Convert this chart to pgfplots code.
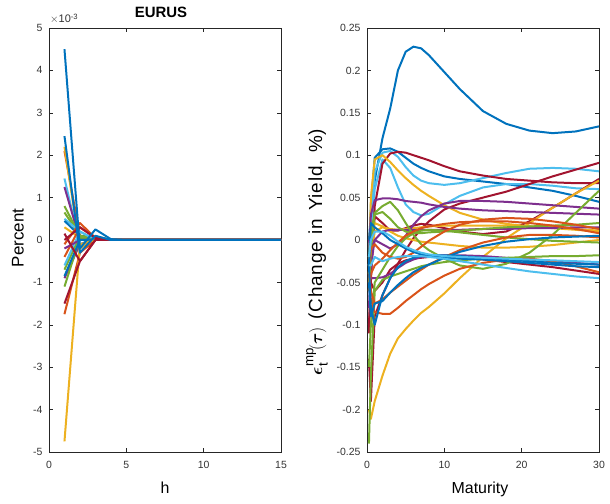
\documentclass[border=0pt]{standalone}
\usepackage{pgfplots}
\pgfplotsset{compat=1.18}
\usepackage{fontspec}
\setmainfont{Liberation Sans}
\newfontfamily\spacedfont{Liberation Sans}[LetterSpace=4, WordSpace=1.3]
\usepackage{amsmath}
\usepackage{bm}
\definecolor{c1}{rgb}{0,0.447,0.741}
\definecolor{c2}{rgb}{0.85,0.325,0.098}
\definecolor{c3}{rgb}{0.929,0.694,0.125}
\definecolor{c4}{rgb}{0.494,0.184,0.556}
\definecolor{c5}{rgb}{0.466,0.674,0.188}
\definecolor{c6}{rgb}{0.301,0.745,0.933}
\definecolor{c7}{rgb}{0.635,0.078,0.184}
\pgfplotsset{
  mstyle/.style={scale only axis, width=232bp, height=424bp,
    axis line style={black!85, line width=0.5bp},
    tick align=inside, tick style={black!85, line width=0.5bp}, major tick length=4bp,
    ticklabel style={font=\fontsize{10.5}{12}\selectfont, color=black!80},
    xticklabel style={yshift=-6bp},
    yticklabel style={xshift=-3bp},
    /pgf/number format/assume math mode=true,
    every axis plot/.append style={line width=2bp, mark=none, line join=round},
    clip=true}
}
\begin{document}
\begin{tikzpicture}
\useasboundingbox (0,0) rectangle (610bp,504bp);
% ---------------- left panel ----------------
\begin{axis}[mstyle, at={(49bp,52bp)}, anchor=south west,
  xmin=0, xmax=15, ymin=-5, ymax=5,
  xtick={0,5,10,15}, ytick={-5,-4,-3,-2,-1,0,1,2,3,4,5}]
\addplot[c2] coordinates {(1,2.1)(2,0.1)(3,0.05)(4,0.01)(5,0)(15,0)};
\addplot[c3] coordinates {(1,2.2)(2,-0.2)(3,0.05)(4,0.01)(5,0)(15,0)};
\addplot[c6] coordinates {(1,1.45)(2,-0.1)(3,0.05)(4,0.0)(5,0)(15,0)};
\addplot[c4] coordinates {(1,1.25)(2,0.0)(3,0.05)(4,0.0)(5,0)(15,0)};
\addplot[c5] coordinates {(1,0.8)(2,0.1)(3,0.08)(4,0.01)(5,0)(15,0)};
\addplot[c5] coordinates {(1,0.65)(2,0.1)(3,0.02)(4,0.0)(5,0)(15,0)};
\addplot[c6] coordinates {(1,0.5)(2,0.2)(3,0.02)(4,0.0)(5,0)(15,0)};
\addplot[c1] coordinates {(1,0.45)(2,0.1)(3,0.0)(4,0.0)(5,0)(15,0)};
\addplot[c3] coordinates {(1,0.3)(2,0.05)(3,0.0)(4,0.0)(5,0)(15,0)};
\addplot[c2] coordinates {(1,-0.1)(2,0.4)(3,0.05)(4,0.0)(5,0)(15,0)};
\addplot[c2] coordinates {(1,-0.4)(2,0.3)(3,0.05)(4,0.0)(5,0)(15,0)};
\addplot[c5] coordinates {(1,-0.7)(2,0.1)(3,0.02)(4,0.0)(5,0)(15,0)};
\addplot[c4] coordinates {(1,-0.9)(2,-0.1)(3,0.0)(4,0.0)(5,0)(15,0)};
\addplot[c6] coordinates {(1,-0.6)(2,0.2)(3,0.0)(4,0.0)(5,0)(15,0)};
\addplot[c5] coordinates {(1,-1.1)(2,0.05)(3,0.0)(4,0.0)(5,0)(15,0)};
\addplot[c4] coordinates {(1,-0.2)(2,0.0)(3,0.0)(4,0.0)(5,0)(15,0)};
\addplot[c1] coordinates {(1,-0.85)(2,0.0)(3,0.0)(4,0.0)(5,0)(15,0)};
\addplot[c2] coordinates {(1,-1.75)(2,-0.3)(3,0.0)(4,0.0)(5,0)(15,0)};
\addplot[c3] coordinates {(1,-4.75)(2,-0.1)(3,0.0)(4,0.0)(5,0)(15,0)};
\addplot[c7] coordinates {(1,0.15)(2,-0.5)(3,0.0)(4,0.0)(5,0)(15,0)};
\addplot[c7] coordinates {(1,-1.5)(2,-0.5)(3,0.0)(4,0.0)(5,0)(15,0)};
\addplot[c7] coordinates {(1,0.0)(2,0.3)(3,0.05)(4,0.0)(5,0)(15,0)};
\addplot[c1] coordinates {(1,2.45)(2,-0.3)(3,0.1)(4,0.0)(5,0)(15,0)};
\addplot[c1] coordinates {(1,4.5)(2,-0.2)(3,0.25)(4,0.02)(5,0)(15,0)};
\end{axis}
% ---------------- right panel ----------------
\begin{axis}[mstyle, at={(367bp,52bp)}, anchor=south west,
  xmin=0, xmax=30, ymin=-0.25, ymax=0.25,
  xtick={0,10,20,30},
  ytick={-0.25,-0.2,-0.15,-0.1,-0.05,0,0.05,0.1,0.15,0.2,0.25},
  yticklabel style={/pgf/number format/.cd, fixed, precision=2}]
\addplot[c1] coordinates {(0.25,0.0)(0.5,0.03)(1,0.07)(2,0.12)(3,0.155)(4,0.2)(5,0.222)(6,0.228)(7,0.226)(8,0.218)(10,0.198)(12,0.178)(15,0.152)(18,0.137)(21,0.129)(24,0.126)(27,0.128)(30,0.134)};
\addplot[c1] coordinates {(0.25,-0.03)(0.5,0.04)(1,0.097)(2,0.107)(3,0.108)(4,0.104)(5,0.097)(6,0.09)(7,0.085)(8,0.081)(10,0.075)(12,0.072)(15,0.069)(18,0.066)(21,0.062)(24,0.058)(27,0.052)(30,0.045)};
\addplot[c6] coordinates {(0.25,-0.03)(0.5,0.02)(1,0.08)(2,0.103)(3,0.105)(4,0.098)(5,0.086)(6,0.076)(7,0.07)(8,0.067)(10,0.065)(12,0.067)(15,0.073)(18,0.079)(21,0.084)(24,0.085)(27,0.084)(30,0.081)};
\addplot[c6] coordinates {(0.25,-0.03)(0.5,0.0)(1,0.06)(2,0.095)(3,0.085)(4,0.062)(5,0.042)(6,0.033)(7,0.029)(8,0.031)(10,0.042)(12,0.052)(15,0.062)(18,0.066)(21,0.066)(24,0.064)(27,0.061)(30,0.06)};
\addplot[c7] coordinates {(0.25,-0.1)(0.5,-0.05)(1,0.04)(2,0.09)(3,0.102)(4,0.104)(5,0.103)(6,0.1)(7,0.097)(8,0.094)(10,0.087)(12,0.081)(15,0.076)(18,0.072)(21,0.07)(24,0.068)(27,0.067)(30,0.067)};
\addplot[c7] coordinates {(0.25,-0.14)(0.5,-0.19)(1,-0.09)(2,-0.065)(3,-0.045)(4,-0.028)(5,-0.012)(6,0.002)(7,0.013)(8,0.022)(10,0.036)(12,0.043)(15,0.05)(18,0.057)(21,0.066)(24,0.075)(27,0.083)(30,0.091)};
\addplot[c7] coordinates {(0.25,-0.11)(0.5,-0.04)(1,0.028)(2,0.02)(3,0.011)(4,0.011)(5,0.014)(6,0.017)(7,0.019)(8,0.018)(10,0.014)(12,0.01)(15,0.007)(18,0.01)(21,0.022)(24,0.038)(27,0.055)(30,0.072)};
\addplot[c7] coordinates {(0.25,-0.06)(0.5,-0.05)(1,-0.06)(2,-0.05)(3,-0.035)(4,-0.028)(5,-0.024)(6,-0.022)(7,-0.021)(8,-0.02)(10,-0.02)(12,-0.021)(15,-0.023)(18,-0.026)(21,-0.029)(24,-0.032)(27,-0.036)(30,-0.04)};
\addplot[c3] coordinates {(0.25,-0.04)(0.5,0.05)(1,0.095)(2,0.1)(3,0.092)(4,0.082)(5,0.073)(6,0.065)(7,0.058)(8,0.052)(10,0.041)(12,0.032)(15,0.024)(18,0.019)(21,0.016)(24,0.014)(27,0.012)(30,0.01)};
\addplot[c3] coordinates {(0.25,-0.2)(0.5,-0.211)(1,-0.19)(2,-0.16)(3,-0.134)(4,-0.116)(5,-0.105)(6,-0.095)(7,-0.086)(8,-0.079)(10,-0.063)(12,-0.045)(15,-0.02)(18,0.002)(21,0.02)(24,0.038)(27,0.055)(30,0.07)};
\addplot[c3] coordinates {(0.25,-0.03)(0.5,0.0)(1,0.02)(2,0.016)(3,0.01)(4,0.005)(5,0.002)(6,0.0)(7,-0.002)(8,-0.003)(10,-0.005)(12,-0.007)(15,-0.009)(18,-0.009)(21,-0.008)(24,-0.006)(27,-0.003)(30,0.0)};
\addplot[c3] coordinates {(0.25,-0.05)(0.5,-0.02)(1,0.01)(2,0.015)(3,0.013)(4,0.012)(5,0.013)(6,0.014)(7,0.015)(8,0.016)(10,0.017)(12,0.017)(15,0.017)(18,0.017)(21,0.016)(24,0.015)(27,0.013)(30,0.011)};
\addplot[c4] coordinates {(0.25,-0.02)(0.5,0.03)(1,0.047)(2,0.049)(3,0.049)(4,0.048)(5,0.046)(6,0.045)(7,0.044)(8,0.042)(10,0.039)(12,0.037)(15,0.035)(18,0.034)(21,0.033)(24,0.032)(27,0.031)(30,0.03)};
\addplot[c4] coordinates {(0.25,-0.08)(0.5,-0.03)(1,0.0)(2,-0.005)(3,-0.01)(4,-0.005)(5,0.005)(6,0.018)(7,0.028)(8,0.035)(10,0.043)(12,0.046)(15,0.046)(18,0.045)(21,0.043)(24,0.041)(27,0.039)(30,0.037)};
\addplot[c4] coordinates {(0.25,-0.04)(0.5,-0.045)(1,-0.045)(2,-0.044)(3,-0.04)(4,-0.033)(5,-0.027)(6,-0.023)(7,-0.02)(8,-0.019)(10,-0.018)(12,-0.018)(15,-0.019)(18,-0.021)(21,-0.023)(24,-0.025)(27,-0.027)(30,-0.029)};
\addplot[c4] coordinates {(0.25,0.0)(0.5,-0.01)(1,0.0)(2,0.01)(3,0.012)(4,0.012)(5,0.012)(6,0.012)(7,0.012)(8,0.012)(10,0.012)(12,0.012)(15,0.013)(18,0.013)(21,0.014)(24,0.014)(27,0.015)(30,0.015)};
\addplot[c5] coordinates {(0.25,-0.06)(0.5,-0.01)(1,0.032)(2,0.04)(3,0.045)(4,0.035)(5,0.02)(6,0.006)(7,-0.005)(8,-0.012)(10,-0.022)(12,-0.03)(15,-0.034)(18,-0.028)(21,-0.015)(24,0.006)(27,0.032)(30,0.058)};
\addplot[c5] coordinates {(0.25,-0.02)(0.5,0.01)(1,0.03)(2,0.033)(3,0.025)(4,0.015)(5,0.01)(6,0.008)(7,0.008)(8,0.009)(10,0.01)(12,0.011)(15,0.013)(18,0.015)(21,0.016)(24,0.017)(27,0.018)(30,0.02)};
\addplot[c5] coordinates {(0.25,-0.15)(0.5,-0.1)(1,-0.05)(2,-0.035)(3,-0.02)(4,-0.007)(5,0.002)(6,0.008)(7,0.011)(8,0.012)(10,0.011)(12,0.009)(15,0.006)(18,0.003)(21,0.001)(24,-0.001)(27,-0.002)(30,-0.003)};
\addplot[c5] coordinates {(0.25,-0.24)(0.5,-0.16)(1,-0.06)(2,-0.047)(3,-0.043)(4,-0.04)(5,-0.037)(6,-0.034)(7,-0.031)(8,-0.029)(10,-0.026)(12,-0.024)(15,-0.022)(18,-0.021)(21,-0.02)(24,-0.019)(27,-0.019)(30,-0.018)};
\addplot[c2] coordinates {(0.25,-0.03)(0.5,-0.01)(1,-0.005)(2,-0.015)(3,-0.02)(4,-0.022)(5,-0.02)(6,-0.015)(7,-0.008)(8,-0.001)(10,0.01)(12,0.018)(15,0.024)(18,0.026)(21,0.025)(24,0.022)(27,0.018)(30,0.013)};
\addplot[c2] coordinates {(0.25,-0.06)(0.5,-0.04)(1,-0.03)(2,-0.022)(3,-0.012)(4,-0.003)(5,0.005)(6,0.01)(7,0.014)(8,0.016)(10,0.019)(12,0.021)(15,0.022)(18,0.022)(21,0.02)(24,0.017)(27,0.013)(30,0.008)};
\addplot[c2] coordinates {(0.25,-0.05)(0.5,-0.07)(1,-0.085)(2,-0.087)(3,-0.087)(4,-0.08)(5,-0.072)(6,-0.065)(7,-0.058)(8,-0.052)(10,-0.042)(12,-0.034)(15,-0.027)(18,-0.023)(21,-0.022)(24,-0.025)(27,-0.031)(30,-0.038)};
\addplot[c2] coordinates {(0.25,-0.04)(0.5,-0.06)(1,-0.075)(2,-0.07)(3,-0.062)(4,-0.055)(5,-0.048)(6,-0.041)(7,-0.035)(8,-0.029)(10,-0.02)(12,-0.012)(15,-0.003)(18,0.003)(21,0.006)(24,0.006)(27,0.005)(30,0.003)};
\addplot[c1] coordinates {(0.25,-0.05)(0.5,-0.09)(1,-0.075)(2,-0.072)(3,-0.062)(4,-0.053)(5,-0.045)(6,-0.038)(7,-0.033)(8,-0.029)(10,-0.021)(12,-0.014)(15,-0.007)(18,-0.002)(21,0.001)(24,0.003)(27,0.004)(30,0.005)};
\addplot[c1] coordinates {(0.25,-0.03)(0.5,-0.08)(1,-0.1)(2,-0.065)(3,-0.045)(4,-0.032)(5,-0.025)(6,-0.021)(7,-0.019)(8,-0.018)(10,-0.018)(12,-0.019)(15,-0.021)(18,-0.023)(21,-0.025)(24,-0.027)(27,-0.028)(30,-0.029)};
\addplot[c1] coordinates {(0.25,-0.03)(0.5,0.02)(1,0.015)(2,0.008)(3,0.0)(4,-0.005)(5,-0.01)(6,-0.014)(7,-0.017)(8,-0.019)(10,-0.021)(12,-0.022)(15,-0.023)(18,-0.025)(21,-0.027)(24,-0.029)(27,-0.031)(30,-0.032)};
\addplot[c6] coordinates {(0.25,-0.03)(0.5,-0.03)(1,-0.02)(2,-0.025)(3,-0.022)(4,-0.02)(5,-0.019)(6,-0.019)(7,-0.019)(8,-0.02)(10,-0.022)(12,-0.025)(15,-0.029)(18,-0.033)(21,-0.037)(24,-0.04)(27,-0.043)(30,-0.045)};
\addplot[c6] coordinates {(0.25,-0.02)(0.5,0.0)(1,0.01)(2,0.01)(3,0.005)(4,-0.002)(5,-0.008)(6,-0.012)(7,-0.015)(8,-0.017)(10,-0.019)(12,-0.02)(15,-0.021)(18,-0.022)(21,-0.023)(24,-0.024)(27,-0.025)(30,-0.026)};
\end{axis}
% ---------------- labels ----------------
\node[anchor=base, font=\bfseries\fontsize{15}{17}\selectfont, inner sep=0pt] at (161bp,486bp) {EURUS};
\node[anchor=base west, font=\fontsize{11}{12}\selectfont, text=black!80, inner sep=0pt] at (50bp,481bp) {$\times$10\textsuperscript{-3}};
\node[font=\fontsize{17}{19}\selectfont, rotate=90, inner sep=0pt] at (18bp,266bp) {Percent};
\node[anchor=base, font=\fontsize{16}{18}\selectfont, inner sep=0pt] at (165bp,11bp) {h};
\node[anchor=base, font=\fontsize{16}{18}\selectfont, inner sep=0pt] at (480bp,11bp) {Maturity};
\node[font=\spacedfont\fontsize{19}{21}\selectfont, rotate=90, inner sep=0pt] at (317bp,252bp) {$\boldsymbol{\epsilon}_{\text{t}}^{\text{mp}}\!(\boldsymbol{\tau})$ (Change in Yield, \%)};
\end{tikzpicture}
\end{document}
